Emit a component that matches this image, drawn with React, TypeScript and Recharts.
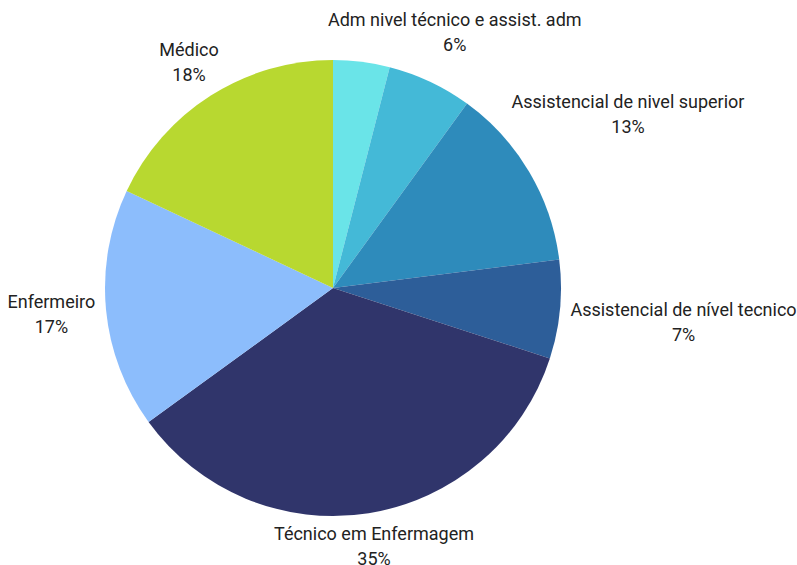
import { PieChart, Pie, Cell } from 'recharts'

// slices, clockwise from 12 o'clock
const categories = [
  'Outros',
  'Adm nivel técnico e assist. adm',
  'Assistencial de nivel superior',
  'Assistencial de nível tecnico',
  'Técnico em Enfermagem',
  'Enfermeiro',
  'Médico',
]
const shares = [4, 6, 13, 7, 35, 17, 18]
const colors = ['#6ae4e8', '#44b9d7', '#2e8bbb', '#2d5e99', '#30356b', '#8cbdfc', '#b8d830']
const hiddenLabels = ['Outros']

const data = categories.map((name, i) => ({ name, value: shares[i] }))

const FONT = '18px Roboto'
const LINE_GAP = 25
const BLOCK_H = 42

// labels pushed away from their neighbours, as in the original
const labelNudge: Record<string, [number, number]> = {
  'Adm nivel técnico e assist. adm': [-34, -21],
  'Assistencial de nivel superior': [-11, -42],
  'Assistencial de nível tecnico': [0, 10],
  'Técnico em Enfermagem': [-12, 1],
  Enfermeiro: [0, 2],
  'Médico': [0, -6],
}

let ctx: CanvasRenderingContext2D | null = null
const textWidth = (s: string) => {
  if (!ctx) {
    ctx = document.createElement('canvas').getContext('2d')
    if (ctx) ctx.font = FONT
  }
  return ctx ? ctx.measureText(s).width : s.length * 9
}

const renderLabel = (props: any) => {
  const { cx, cy, midAngle, outerRadius, name, percent } = props
  if (hiddenLabels.includes(name)) return null
  const rad = (-midAngle * Math.PI) / 180
  const dx = Math.cos(rad)
  const dy = Math.sin(rad)
  const r = outerRadius + 11
  const pct = `${Math.round(percent * 100)}%`
  const w = Math.max(textWidth(name), textWidth(pct))
  const nudge = labelNudge[name] || [0, 0]
  const x = cx + dx * r + (dx * w) / 2 + nudge[0]
  const y = cy + dy * r + (dy * BLOCK_H) / 2 + nudge[1]
  return (
    <text x={x} textAnchor="middle" fill="#222" style={{ font: FONT }}>
      <tspan x={x} y={y - LINE_GAP / 2} dominantBaseline="central">{name}</tspan>
      <tspan x={x} y={y + LINE_GAP / 2} dominantBaseline="central">{pct}</tspan>
    </text>
  )
}

export default function App() {
  return (
    <div style={{ position: 'absolute', left: 0, top: 0, fontFamily: 'Roboto' }}>
      <PieChart width={797} height={565} margin={{ top: 0, right: 0, bottom: 0, left: 0 }}>
        <Pie
          data={data}
          dataKey="value"
          nameKey="name"
          cx={333}
          cy={288}
          outerRadius={228}
          startAngle={90}
          endAngle={-270}
          stroke="none"
          label={renderLabel}
          labelLine={false}
          isAnimationActive={false}
        >
          {data.map((d, i) => (
            <Cell key={d.name} fill={colors[i]} />
          ))}
        </Pie>
      </PieChart>
    </div>
  )
}
